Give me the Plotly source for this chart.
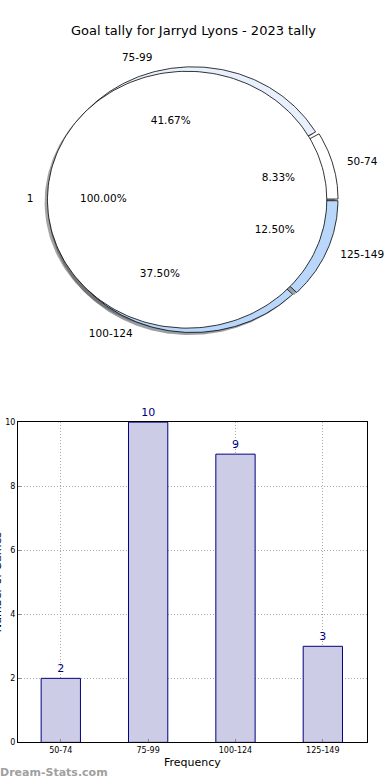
import numpy as np
import plotly.graph_objects as go

# ---------------- data ----------------
title_text = "Goal tally for Jarryd Lyons - 2023 tally"
categories = ["50-74", "75-99", "100-124", "125-149"]
counts = [2, 10, 9, 3]
ring_colors = ["#ffffff", "#e8f0fe", "#b9d7fb", "#b9d7fb"]
inner_labels = ["1"]
inner_values = [1]
inner_colors = ["#ffffff"]
y_ticks = [0, 2, 4, 6, 8, 10]
x_title = "Frequency"
y_title = "Number of Games"
watermark = "Dream-Stats.com"

# ---------------- pie geometry (matplotlib-like) ----------------
RING_R = 1.0
RING_EXPLODE = 0.02
INNER_R = 0.985
INNER_EXPLODE = 0.045
SHADOW = (-0.02, -0.02)
FONT = "DejaVu Sans"


def wedge_xy(cx, cy, r, t1, t2, n=200):
    th = np.radians(np.linspace(t1, t2, n))
    xs = cx + r * np.cos(th)
    ys = cy + r * np.sin(th)
    if abs(t2 - t1) >= 360 - 1e-9:
        return list(xs), list(ys)
    return [cx] + list(xs) + [cx], [cy] + list(ys) + [cy]


def shade(hexcol):
    h = hexcol.lstrip("#")
    r, g, b = (int(h[i:i + 2], 16) for i in (0, 2, 4))
    return f"rgba({int(r*0.3)},{int(g*0.3)},{int(b*0.3)},0.5)"


def pie_layout(values, radius, explode):
    total = float(sum(values))
    out = []
    t = 0.0
    for v in values:
        span = 360.0 * v / total
        mid = np.radians(t + span / 2)
        cx, cy = explode * np.cos(mid), explode * np.sin(mid)
        out.append((t, t + span, cx, cy, mid, 100.0 * v / total))
        t += span
    return out


ring = pie_layout(counts, RING_R, RING_EXPLODE)
inner = pie_layout(inner_values, INNER_R, INNER_EXPLODE)

fig = go.Figure()

# shadows (beneath all wedges)
for (t1, t2, cx, cy, mid, pct), col in list(zip(ring, ring_colors)) + [
        (w, c) for w, c in zip(inner, inner_colors)]:
    r = RING_R if (t2 - t1) < 360 else INNER_R
    xs, ys = wedge_xy(cx + SHADOW[0], cy + SHADOW[1], r, t1, t2)
    fig.add_trace(go.Scatter(x=xs, y=ys, mode="lines", fill="toself",
                             fillcolor=shade(col), line=dict(width=0),
                             hoverinfo="skip", showlegend=False,
                             xaxis="x", yaxis="y"))

# outer ring wedges
for (t1, t2, cx, cy, mid, pct), col in zip(ring, ring_colors):
    xs, ys = wedge_xy(cx, cy, RING_R, t1, t2)
    fig.add_trace(go.Scatter(x=xs, y=ys, mode="lines", fill="toself",
                             fillcolor=col, line=dict(color="black", width=0.8),
                             hoverinfo="skip", showlegend=False,
                             xaxis="x", yaxis="y"))

# inner pie
for (t1, t2, cx, cy, mid, pct), col in zip(inner, inner_colors):
    xs, ys = wedge_xy(cx, cy, INNER_R, t1, t2)
    fig.add_trace(go.Scatter(x=xs, y=ys, mode="lines", fill="toself",
                             fillcolor=col, line=dict(color="black", width=0.8),
                             hoverinfo="skip", showlegend=False,
                             xaxis="x", yaxis="y"))


def add_pie_texts(slices, labels, radius):
    for (t1, t2, cx, cy, mid, pct), lab in zip(slices, labels):
        lx = cx + 1.1 * radius * np.cos(mid)
        ly = cy + 1.1 * radius * np.sin(mid)
        pos = "middle right" if lx > 0 else "middle left"
        fig.add_trace(go.Scatter(x=[lx], y=[ly], mode="text", text=[lab],
                                 textposition=pos,
                                 textfont=dict(family=FONT, size=10.5, color="black"),
                                 hoverinfo="skip", showlegend=False,
                                 xaxis="x", yaxis="y"))
        px = cx + 0.6 * radius * np.cos(mid)
        py = cy + 0.6 * radius * np.sin(mid)
        fig.add_trace(go.Scatter(x=[px], y=[py], mode="text", text=[f"{pct:.2f}%"],
                                 textposition="middle center",
                                 textfont=dict(family=FONT, size=10.5, color="black"),
                                 hoverinfo="skip", showlegend=False,
                                 xaxis="x", yaxis="y"))


add_pie_texts(ring, categories, RING_R)
add_pie_texts(inner, inner_labels, INNER_R)

# ---------------- bar chart ----------------
fig.add_trace(go.Bar(x=categories, y=counts, width=0.45,
                     marker=dict(color="#ccccE6", line=dict(color="#000080", width=1)),
                     text=[str(v) for v in counts], textposition="outside",
                     textfont=dict(family=FONT, size=11, color="#000080"),
                     cliponaxis=False, hoverinfo="skip", showlegend=False,
                     xaxis="x2", yaxis="y2"))

W, H = 390, 780
cxp, cyp = 193.5, 198.0      # pie centre in pixels
sx, sy = 141.8, 131.9        # pixels per pie unit
bar_left, bar_right, bar_top, bar_bottom = 18.0, 366.5, 423.0, 747.0

grid = dict(showgrid=True, gridcolor="#a8a8a8", griddash="1px,2px", gridwidth=1)

fig.update_layout(
    width=W, height=H,
    margin=dict(l=0, r=0, t=0, b=0),
    paper_bgcolor="white", plot_bgcolor="white",
    font=dict(family=FONT, color="black"),
    xaxis=dict(domain=[0, 1], range=[-cxp / sx, (W - cxp) / sx], visible=False,
               fixedrange=True),
    yaxis=dict(domain=[0.5, 1], range=[-(H / 2 - cyp) / sy, cyp / sy], visible=False,
               fixedrange=True),
    xaxis2=dict(domain=[bar_left / W, bar_right / W], anchor="y2", type="category",
                range=[-0.49, 3.5], showline=True, mirror=True, linecolor="black",
                linewidth=1, ticks="inside", ticklen=3, tickcolor="#888888",
                tickfont=dict(family=FONT, size=8, color="black"),
                layer="above traces", zeroline=False, fixedrange=True, **grid),
    yaxis2=dict(domain=[1 - bar_bottom / H, 1 - bar_top / H], anchor="x2", range=[0, 10],
                tickvals=y_ticks, showline=True, mirror=True, linecolor="black",
                linewidth=1, ticks="inside", ticklen=3, tickcolor="#888888",
                tickfont=dict(family=FONT, size=8, color="black"),
                layer="above traces", zeroline=False, fixedrange=True, **grid),
    annotations=[
        dict(text=title_text, xref="paper", yref="paper", x=193 / W, y=1 - 27 / H,
             showarrow=False, font=dict(family=FONT, size=13, color="black"),
             xanchor="center", yanchor="middle"),
        dict(text=x_title, xref="paper", yref="paper", x=192 / W, y=1 - 767 / H,
             showarrow=False, font=dict(family=FONT, size=11, color="black"),
             xanchor="center", yanchor="middle"),
        dict(text=y_title, xref="paper", yref="paper", x=-3 / W, y=1 - 585 / H,
             showarrow=False, textangle=-90,
             font=dict(family=FONT, size=11, color="black"),
             xanchor="center", yanchor="middle"),
        dict(text="<b>" + watermark + "</b>", xref="paper", yref="paper",
             x=-2 / W, y=1 - 777 / H, showarrow=False,
             font=dict(family=FONT, size=11, color="#a0a0a0"),
             xanchor="left", yanchor="middle"),
    ],
)

fig.write_html("out.html", config={"displayModeBar": False},
               post_script="document.body.style.margin='0';")
